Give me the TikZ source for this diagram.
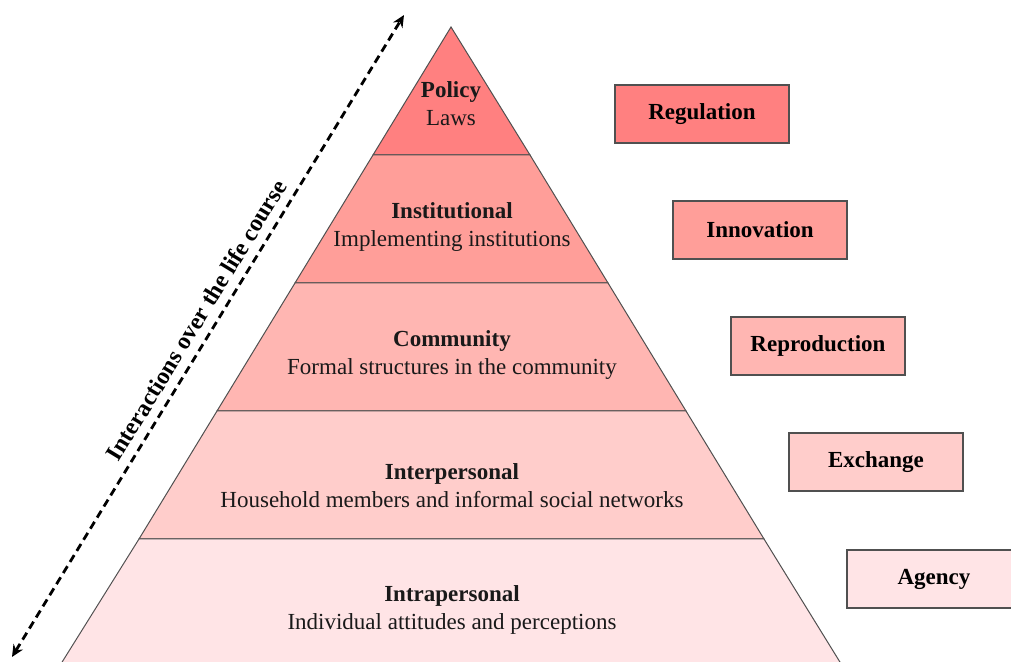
\documentclass[tikz,border=0pt]{standalone}
\usepackage{fontspec}
\setmainfont{Liberation Serif}
\usetikzlibrary{arrows.meta}

\definecolor{lvA}{RGB}{255,128,128}
\definecolor{lvB}{RGB}{255,158,153}
\definecolor{lvC}{RGB}{255,182,178}
\definecolor{lvD}{RGB}{255,205,203}
\definecolor{lvE}{RGB}{255,228,230}
\definecolor{edge}{RGB}{80,80,80}

\tikzset{
  band/.style={draw=edge, line width=1pt},
  bandtext/.style={align=center, font=\fontsize{23}{28}\selectfont, text=black!90},
  tagbox/.style={draw=edge, line width=1.2pt, minimum width=174pt, minimum height=58pt,
                 font=\fontsize{23}{27}\selectfont\bfseries, inner sep=0pt},
  lifearrow/.style={line width=2.8pt, dash pattern=on 8pt off 5pt,
                    {Stealth[length=12pt,width=11pt]}-{Stealth[length=12pt,width=11pt]}}
}

\begin{document}
\begin{tikzpicture}[x=1pt,y=1pt]
\useasboundingbox (0,0) rectangle (1011,661);
\begin{scope}
\clip (0,0) rectangle (1011,661);

% pyramid outline points (left/right edge at each level)
\coordinate (apex) at (451,634);
\coordinate (l1) at (373,506); \coordinate (r1) at (530,506);
\coordinate (l2) at (295,378); \coordinate (r2) at (608,378);
\coordinate (l3) at (217,250); \coordinate (r3) at (686,250);
\coordinate (l4) at (139,122); \coordinate (r4) at (764,122);
\coordinate (l5) at (59,-6);   \coordinate (r5) at (843,-6);

% bands, top to bottom
\filldraw[band, fill=lvA] (apex) -- (r1) -- (l1) -- cycle;
\filldraw[band, fill=lvB] (l1) -- (r1) -- (r2) -- (l2) -- cycle;
\filldraw[band, fill=lvC] (l2) -- (r2) -- (r3) -- (l3) -- cycle;
\filldraw[band, fill=lvD] (l3) -- (r3) -- (r4) -- (l4) -- cycle;
\filldraw[band, fill=lvE] (l4) -- (r4) -- (r5) -- (l5) -- cycle;

% band labels
\node[bandtext] (policy) at (451,557) {\textbf{Policy}\\Laws};
\node[bandtext] (institutional) at (452,434) {\textbf{Institutional}\\Implementing institutions};
\node[bandtext] (community) at (452,306) {\textbf{Community}\\Formal structures in the community};
\node[bandtext] (interpersonal) at (452,175) {\textbf{Interpersonal}\\Household members and informal social networks};
\node[bandtext] (intrapersonal) at (452,51) {\textbf{Intrapersonal}\\Individual attitudes and perceptions};

% processes on the right
\node[tagbox, fill=lvA] (regulation) at (702,547) {Regulation};
\node[tagbox, fill=lvB] (innovation) at (760,431) {Innovation};
\node[tagbox, fill=lvC] (reproduction) at (818,315) {Reproduction};
\node[tagbox, fill=lvD] (exchange) at (876,199) {Exchange};
\node[tagbox, fill=lvE] (agency) at (934,82) {Agency};

% life-course arrow
\coordinate (lifeStart) at (12,4);
\coordinate (lifeEnd) at (404,646);
\draw[lifearrow] (lifeStart) -- (lifeEnd)
  node[pos=0.51, sloped, above=5pt, font=\fontsize{24}{28}\selectfont\bfseries] (lifelabel) {Interactions over the life course};
\end{scope}
\end{tikzpicture}
\end{document}
